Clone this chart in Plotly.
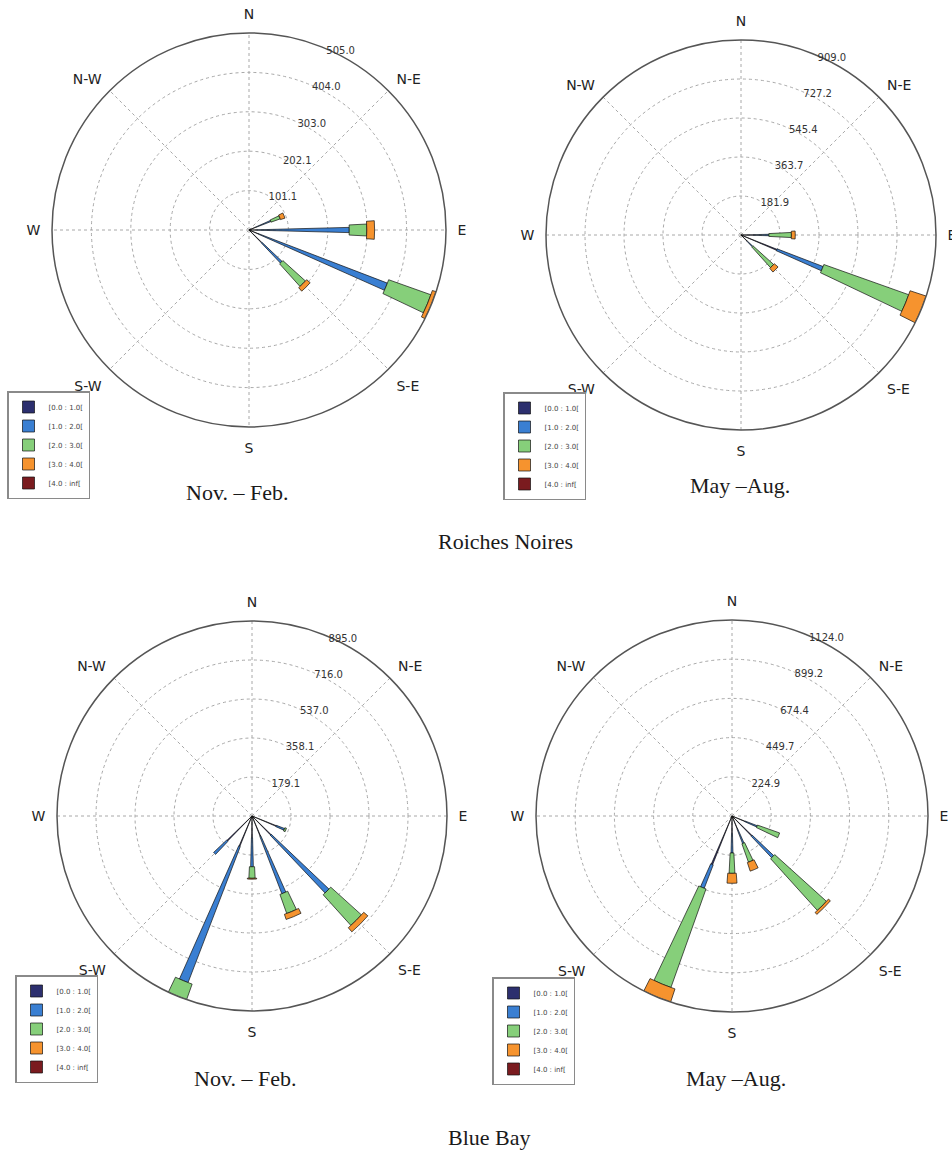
import plotly.graph_objects as go
import numpy as np

# 16 compass sectors (degrees clockwise from North)
directions = [0, 22.5, 45, 67.5, 90, 112.5, 135, 157.5, 180, 202.5, 225, 247.5, 270, 292.5, 315, 337.5]
bin_labels = ["[0.0 : 1.0[", "[1.0 : 2.0[", "[2.0 : 3.0[", "[3.0 : 4.0[", "[4.0 : inf["]
compass_labels = ["N", "N-E", "E", "S-E", "S", "S-W", "W", "N-W"]

# Roiches Noires, Nov.-Feb.  (index: N, NNE, NE, ENE, E, ESE, SE, SSE, S, SSW, SW, WSW, W, WNW, NW, NNW)
rn_nf_b0 = [0, 0, 0, 20, 20, 25, 45, 0, 0, 0, 0, 0, 0, 0, 0, 0]
rn_nf_b1 = [0, 0, 0, 40, 237, 355, 72, 0, 0, 0, 0, 0, 0, 0, 0, 0]
rn_nf_b2 = [0, 0, 0, 25, 45, 115, 78, 0, 0, 0, 0, 0, 0, 0, 0, 0]
rn_nf_b3 = [0, 0, 0, 12, 20, 10, 12, 0, 0, 0, 0, 0, 0, 0, 0, 0]
rn_nf_b4 = [0] * 16
rn_nf_ticks = ["", "101.1", "202.1", "303.0", "404.0", "505.0"]
rn_nf_rmax = 505.0

# Roiches Noires, May-Aug.
rn_ma_b0 = [0, 0, 0, 0, 60, 180, 40, 0, 0, 0, 0, 0, 0, 0, 0, 0]
rn_ma_b1 = [0, 0, 0, 0, 70, 230, 35, 0, 0, 0, 0, 0, 0, 0, 0, 0]
rn_ma_b2 = [0, 0, 0, 0, 105, 420, 130, 0, 0, 0, 0, 0, 0, 0, 0, 0]
rn_ma_b3 = [0, 0, 0, 0, 18, 79, 23, 0, 0, 0, 0, 0, 0, 0, 0, 0]
rn_ma_b4 = [0] * 16
rn_ma_ticks = ["", "181.9", "363.7", "545.4", "727.2", "909.0"]
rn_ma_rmax = 909.0

# Blue Bay, Nov.-Feb.
bb_nf_b0 = [0, 0, 0, 0, 0, 120, 120, 100, 100, 150, 160, 0, 0, 0, 0, 0]
bb_nf_b1 = [0, 0, 0, 0, 0, 40, 367, 282, 133, 669, 83, 0, 0, 0, 0, 0]
bb_nf_b2 = [0, 0, 0, 0, 0, 8, 190, 93, 53, 76, 0, 0, 0, 0, 0, 0]
bb_nf_b3 = [0, 0, 0, 0, 0, 0, 25, 25, 4, 0, 0, 0, 0, 0, 0, 0]
bb_nf_b4 = [0] * 16
bb_nf_ticks = ["", "179.1", "358.1", "537.0", "716.0", "895.0"]
bb_nf_rmax = 895.0

# Blue Bay, May-Aug.
bb_ma_b0 = [0, 0, 0, 0, 0, 80, 160, 80, 100, 300, 0, 0, 0, 0, 0, 0]
bb_ma_b1 = [0, 0, 0, 0, 0, 75, 170, 89, 112, 144, 0, 0, 0, 0, 0, 0]
bb_ma_b2 = [0, 0, 0, 0, 0, 135, 400, 112, 117, 600, 0, 0, 0, 0, 0, 0]
bb_ma_b3 = [0, 0, 0, 0, 0, 0, 15, 52, 57, 80, 0, 0, 0, 0, 0, 0]
bb_ma_b4 = [0] * 16
bb_ma_ticks = ["", "224.9", "449.7", "674.4", "899.2", "1124.0"]
bb_ma_rmax = 1124.0

bin_colors = ["#2c2f6e", "#3a7fd2", "#86cf7a", "#f6932e", "#7a1b1f"]
bin_widths = [1.6, 3.0, 5.8, 8.5, 8.5]

W, H = 952, 1154

panels = [
    dict(name="polar", legend="legend", bins=[rn_nf_b0, rn_nf_b1, rn_nf_b2, rn_nf_b3, rn_nf_b4],
         ticks=rn_nf_ticks, rmax=rn_nf_rmax, cx=249, cy=230, r=197, lx=7, ly=391),
    dict(name="polar2", legend="legend2", bins=[rn_ma_b0, rn_ma_b1, rn_ma_b2, rn_ma_b3, rn_ma_b4],
         ticks=rn_ma_ticks, rmax=rn_ma_rmax, cx=741, cy=235, r=195, lx=503, ly=392),
    dict(name="polar3", legend="legend3", bins=[bb_nf_b0, bb_nf_b1, bb_nf_b2, bb_nf_b3, bb_nf_b4],
         ticks=bb_nf_ticks, rmax=bb_nf_rmax, cx=252, cy=816, r=195, lx=15, ly=975),
    dict(name="polar4", legend="legend4", bins=[bb_ma_b0, bb_ma_b1, bb_ma_b2, bb_ma_b3, bb_ma_b4],
         ticks=bb_ma_ticks, rmax=bb_ma_rmax, cx=732, cy=816, r=196, lx=492, ly=977),
]

fig = go.Figure()
layout_extra = {}
for p in panels:
    for i, vals in enumerate(p["bins"]):
        fig.add_trace(go.Barpolar(
            r=vals, theta=directions, width=bin_widths[i],
            name=bin_labels[i], subplot=p["name"], legend=p["legend"],
            marker=dict(color=bin_colors[i], line=dict(color="#111111", width=0.7)),
            hoverinfo="skip",
        ))
    x0 = (p["cx"] - p["r"]) / W
    x1 = (p["cx"] + p["r"]) / W
    y0 = 1 - (p["cy"] + p["r"]) / H
    y1 = 1 - (p["cy"] - p["r"]) / H
    tickvals = list(np.linspace(0, p["rmax"], 6))
    layout_extra[p["name"]] = dict(
        domain=dict(x=[x0, x1], y=[y0, y1]),
        bgcolor="white",
        barmode="stack",
        radialaxis=dict(
            range=[0, p["rmax"]], tickvals=tickvals, ticktext=p["ticks"],
            showline=False, ticks="", angle=68.5, tickangle=68.5, side="clockwise",
            gridcolor="#a8a8a8", griddash="dot", gridwidth=1,
            tickfont=dict(family="DejaVu Sans", size=10, color="#333333"),
        ),
        angularaxis=dict(
            rotation=90, direction="clockwise",
            tickmode="array", tickvals=[0, 45, 90, 135, 180, 225, 270, 315],
            ticktext=compass_labels,
            showline=True, linecolor="#555555", linewidth=1.5,
            gridcolor="#a8a8a8", griddash="dot", gridwidth=1,
            ticks="outside", ticklen=8, tickcolor="rgba(0,0,0,0)",
            tickfont=dict(family="DejaVu Sans", size=14, color="#222222"),
        ),
    )
    layout_extra[p["legend"]] = dict(
        x=p["lx"] / W, y=1 - p["ly"] / H, xanchor="left", yanchor="top",
        bgcolor="white", bordercolor="#8a8a8a", borderwidth=1.5,
        font=dict(family="DejaVu Sans", size=7, color="#444444"),
        traceorder="normal", itemwidth=30, tracegroupgap=0,
    )

captions = [
    ("Nov. – Feb.", 237, 493),
    ("May –Aug.", 740, 485),
    ("Roiches Noires", 505, 541),
    ("Nov. – Feb.", 245, 1078),
    ("May –Aug.", 736, 1078),
    ("Blue Bay", 490, 1137),
]
annotations = [
    dict(text=t, x=x / W, y=1 - y / H, xref="paper", yref="paper",
         xanchor="center", yanchor="middle", showarrow=False,
         font=dict(family="Liberation Serif", size=22, color="#1a1a1a"))
    for t, x, y in captions
]

fig.update_layout(
    width=W, height=H, margin=dict(l=0, r=0, t=0, b=0),
    paper_bgcolor="white", plot_bgcolor="white",
    showlegend=True, annotations=annotations,
    **layout_extra,
)

fig.write_html("out.html")
